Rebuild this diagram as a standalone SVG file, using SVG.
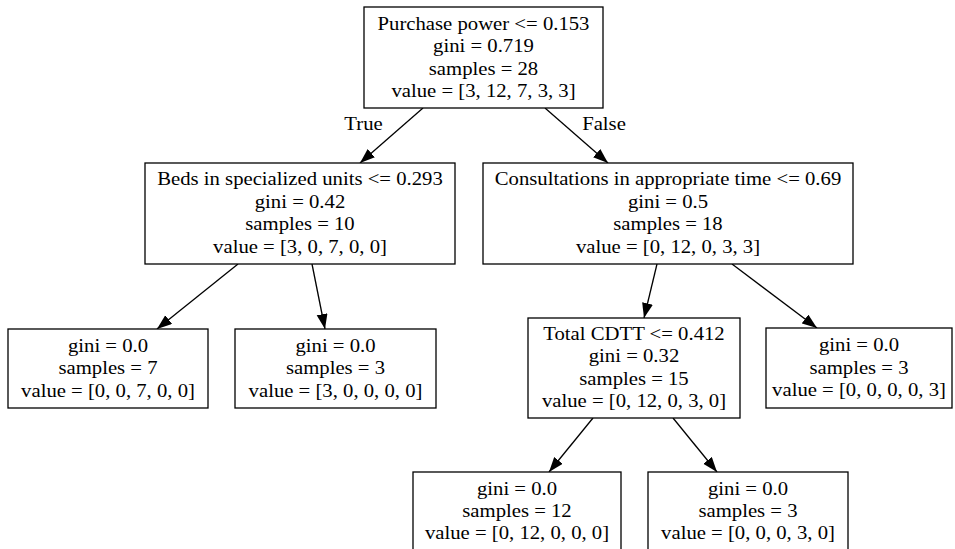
<svg xmlns="http://www.w3.org/2000/svg" width="955" height="549" viewBox="0 0 955 549">
  <style>
    .box { fill: #ffffff; stroke: #000000; stroke-width: 1.3; }
    .edge { fill: none; stroke: #000000; stroke-width: 1.3; }
    text { font-family: "Liberation Serif", "Times New Roman", serif; font-size: 18.5px; fill: #000000; text-anchor: middle; }
  </style>
  <defs>
    <marker id="arrow" markerUnits="userSpaceOnUse" markerWidth="16" markerHeight="12" refX="15" refY="5.5" orient="auto">
      <path d="M0,0 L15,5.5 L0,11 z" fill="#000000"/>
    </marker>
  </defs>
  <rect width="955" height="549" fill="#ffffff"/>

  <!-- connectors -->
  <g id="edges">
    <line class="edge" x1="423" y1="108" x2="360" y2="163" marker-end="url(#arrow)"/>
    <line class="edge" x1="545" y1="108" x2="608" y2="163" marker-end="url(#arrow)"/>
    <line class="edge" x1="238" y1="264" x2="157" y2="329" marker-end="url(#arrow)"/>
    <line class="edge" x1="312" y1="264" x2="325" y2="329" marker-end="url(#arrow)"/>
    <line class="edge" x1="657" y1="264" x2="644" y2="318" marker-end="url(#arrow)"/>
    <line class="edge" x1="732" y1="264" x2="817" y2="328" marker-end="url(#arrow)"/>
    <line class="edge" x1="593" y1="418" x2="549" y2="472" marker-end="url(#arrow)"/>
    <line class="edge" x1="673" y1="418" x2="717" y2="472" marker-end="url(#arrow)"/>
    <g transform="matrix(1.12,0,0,1,363.5,0)"><text x="0" y="130.5">True</text></g>
    <g transform="matrix(1.12,0,0,1,604,0)"><text x="0" y="130.5">False</text></g>
  </g>

  <!-- root split -->
  <g id="node0">
    <rect class="box" x="364" y="7" width="239" height="101"/>
    <g transform="matrix(1.12,0,0,1,483.5,0)">
      <text x="0" y="30">Purchase power &lt;= 0.153</text>
      <text x="0" y="52.5">gini = 0.719</text>
      <text x="0" y="75">samples = 28</text>
      <text x="0" y="97.5">value = [3, 12, 7, 3, 3]</text>
    </g>
  </g>

  <g id="node1">
    <rect class="box" x="145" y="163" width="310" height="101"/>
    <g transform="matrix(1.12,0,0,1,300,0)">
      <text x="0" y="185.5">Beds in specialized units &lt;= 0.293</text>
      <text x="0" y="208">gini = 0.42</text>
      <text x="0" y="230.5">samples = 10</text>
      <text x="0" y="253">value = [3, 0, 7, 0, 0]</text>
    </g>
  </g>

  <g id="node2">
    <rect class="box" x="8" y="329" width="200" height="79"/>
    <g transform="matrix(1.12,0,0,1,108,0)">
      <text x="0" y="352">gini = 0.0</text>
      <text x="0" y="374.5">samples = 7</text>
      <text x="0" y="397">value = [0, 0, 7, 0, 0]</text>
    </g>
  </g>

  <g id="node3">
    <rect class="box" x="235" y="329" width="201" height="79"/>
    <g transform="matrix(1.12,0,0,1,335.5,0)">
      <text x="0" y="352">gini = 0.0</text>
      <text x="0" y="374.5">samples = 3</text>
      <text x="0" y="397">value = [3, 0, 0, 0, 0]</text>
    </g>
  </g>

  <g id="node4">
    <rect class="box" x="483" y="163" width="370" height="101"/>
    <g transform="matrix(1.12,0,0,1,668,0)">
      <text x="0" y="185.5">Consultations in appropriate time &lt;= 0.69</text>
      <text x="0" y="208">gini = 0.5</text>
      <text x="0" y="230.5">samples = 18</text>
      <text x="0" y="253">value = [0, 12, 0, 3, 3]</text>
    </g>
  </g>

  <g id="node5">
    <rect class="box" x="528" y="318" width="212" height="100"/>
    <g transform="matrix(1.12,0,0,1,634,0)">
      <text x="0" y="340">Total CDTT &lt;= 0.412</text>
      <text x="0" y="362.5">gini = 0.32</text>
      <text x="0" y="385">samples = 15</text>
      <text x="0" y="407.5">value = [0, 12, 0, 3, 0]</text>
    </g>
  </g>

  <g id="node6">
    <rect class="box" x="413" y="472" width="208" height="79"/>
    <g transform="matrix(1.12,0,0,1,517,0)">
      <text x="0" y="495">gini = 0.0</text>
      <text x="0" y="517">samples = 12</text>
      <text x="0" y="539.5">value = [0, 12, 0, 0, 0]</text>
    </g>
  </g>

  <g id="node7">
    <rect class="box" x="648" y="472" width="200" height="79"/>
    <g transform="matrix(1.12,0,0,1,748,0)">
      <text x="0" y="495">gini = 0.0</text>
      <text x="0" y="517">samples = 3</text>
      <text x="0" y="539.5">value = [0, 0, 0, 3, 0]</text>
    </g>
  </g>

  <g id="node8">
    <rect class="box" x="766" y="328" width="186" height="80"/>
    <g transform="matrix(1.12,0,0,1,859,0)">
      <text x="0" y="351.5">gini = 0.0</text>
      <text x="0" y="374">samples = 3</text>
      <text x="0" y="396.5">value = [0, 0, 0, 0, 3]</text>
    </g>
  </g>
</svg>
